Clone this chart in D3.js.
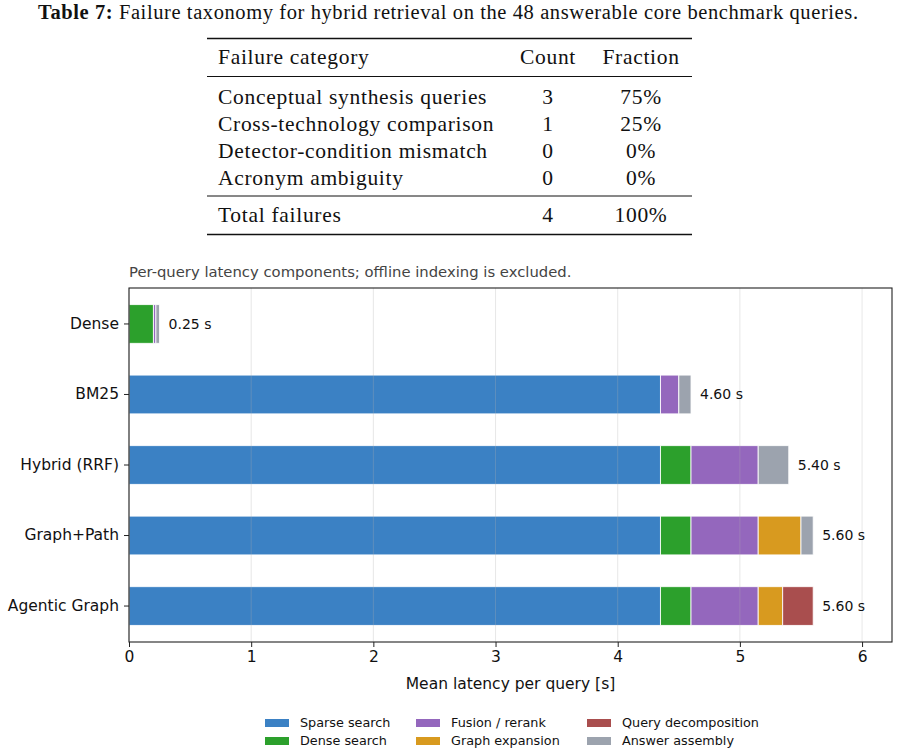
<!DOCTYPE html>
<html>
<head>
<meta charset="utf-8">
<style>
  body { margin: 0; background: #fff; }
  svg { display: block; }
  .serif { font-family: "Liberation Serif", "DejaVu Serif", serif; fill: #111; }
  .sans { font-family: "DejaVu Sans", sans-serif; }
</style>
</head>
<body>
<svg width="900" height="756"></svg>
<script src="https://d3js.org/d3.v7.min.js"></script>
<script>
// ---- table data ----
let tableRows = ["Conceptual synthesis queries", "Cross-technology comparison", "Detector-condition mismatch", "Acronym ambiguity"]
let tableCounts = [3, 1, 0, 0]
let tableFractions = ["75%", "25%", "0%", "0%"]
let totalRow = ["Total failures", 4, "100%"]

// ---- chart data ----
let systems = ["Dense", "BM25", "Hybrid (RRF)", "Graph+Path", "Agentic Graph"]
let components = ["Sparse search", "Dense search", "Fusion / rerank", "Graph expansion", "Query decomposition", "Answer assembly"]
let compColors = ["#3b81c4", "#2ca02c", "#9467bd", "#d89a1f", "#a94e4e", "#9ca3ae"]
let sparse   = [0,    4.35, 4.35, 4.35, 4.35]
let dense    = [0.20, 0,    0.25, 0.25, 0.25]
let fusion   = [0.02, 0.15, 0.55, 0.55, 0.55]
let graphExp = [0,    0,    0,    0.35, 0.20]
let queryDec = [0,    0,    0,    0,    0.25]
let answer   = [0.03, 0.10, 0.25, 0.10, 0]
let totals   = [0.25, 4.60, 5.40, 5.60, 5.60]
let xTicks = [0, 1, 2, 3, 4, 5, 6]

let svg = d3.select("svg")

// ---------- table ----------
let cap = svg.append("text").attr("class", "serif")
    .attr("x", 38).attr("y", 19)
    .attr("textLength", 820).attr("lengthAdjust", "spacing")
    .style("font-size", "20.5px")
cap.append("tspan").attr("font-weight", "bold").text("Table 7:")
cap.append("tspan").text(" Failure taxonomy for hybrid retrieval on the 48 answerable core benchmark queries.")

let tL = 207, tR = 692
let colX = {name: 218, count: 548, frac: 641}
let rule = (y, w) => svg.append("line").attr("x1", tL).attr("x2", tR)
    .attr("y1", y).attr("y2", y).attr("stroke", "#111").attr("stroke-width", w)
rule(38.5, 1.6)
rule(76.5, 1)
rule(196, 1)
rule(234.5, 1.6)

let fs = "21.5px", ls = "0.7px"
function tableRow(y, a, b, c) {
    svg.append("text").attr("class", "serif").attr("x", colX.name).attr("y", y)
        .style("font-size", fs).style("letter-spacing", ls).text(a)
    svg.append("text").attr("class", "serif").attr("x", colX.count).attr("y", y).attr("text-anchor", "middle")
        .style("font-size", fs).style("letter-spacing", ls).text(b)
    svg.append("text").attr("class", "serif").attr("x", colX.frac).attr("y", y).attr("text-anchor", "middle")
        .style("font-size", fs).style("letter-spacing", ls).text(c)
}
tableRow(64, "Failure category", "Count", "Fraction")
tableRows.forEach((r, i) => tableRow(104 + i * 27, r, tableCounts[i], tableFractions[i]))
tableRow(222, totalRow[0], totalRow[1], totalRow[2])

// ---------- chart ----------
let margin = {top: 288, right: 8, bottom: 114, left: 129}
let W = 900, H = 756

let x = d3.scaleLinear().domain([0, 6.245]).range([margin.left, W - margin.right])
let y = d3.scaleBand().domain(systems).range([margin.top, H - margin.bottom]).paddingInner(0.45).paddingOuter(0.235)

let data = systems.map((s, i) => ({
    system: s,
    "Sparse search": sparse[i],
    "Dense search": dense[i],
    "Fusion / rerank": fusion[i],
    "Graph expansion": graphExp[i],
    "Query decomposition": queryDec[i],
    "Answer assembly": answer[i]
}))

let series = d3.stack().keys(components)(data)
let color = d3.scaleOrdinal().domain(components).range(compColors)

svg.append("text").attr("class", "sans")
    .attr("x", margin.left).attr("y", 277)
    .style("font-size", "14.8px").style("fill", "#444")
    .text("Per-query latency components; offline indexing is excluded.")

svg.append("g").selectAll("g")
    .data(series)
    .join("g")
    .attr("fill", d => color(d.key))
    .selectAll("rect")
    .data(d => d.filter(v => v[1] - v[0] > 0))
    .join("rect")
    .attr("x", d => x(d[0]))
    .attr("y", d => y(d.data.system))
    .attr("width", d => x(d[1]) - x(d[0]))
    .attr("height", y.bandwidth())
    .attr("stroke", "#fff")
    .attr("stroke-width", 1)
    .attr("stroke-opacity", 0.85)

// grid on top, faint
svg.append("g").selectAll("line")
    .data(xTicks)
    .join("line")
    .attr("x1", d => x(d)).attr("x2", d => x(d))
    .attr("y1", margin.top).attr("y2", H - margin.bottom)
    .attr("stroke", "#b0b0b0").attr("stroke-opacity", 0.3).attr("stroke-width", 1)

// total labels
svg.append("g").selectAll("text")
    .data(systems)
    .join("text")
    .attr("class", "sans")
    .attr("x", (d, i) => x(totals[i]) + 9)
    .attr("y", d => y(d) + y.bandwidth() / 2)
    .attr("dy", "0.35em")
    .style("font-size", "14px").style("fill", "#111")
    .text((d, i) => totals[i].toFixed(2) + " s")

// axes
let xAxis = svg.append("g")
    .attr("transform", `translate(0,${H - margin.bottom})`)
    .call(d3.axisBottom(x).tickValues(xTicks).tickSize(5).tickPadding(4).tickFormat(d3.format("d")))
xAxis.select(".domain").remove()
xAxis.selectAll("text").attr("class", "sans").style("font-size", "15.5px").style("fill", "#111")
xAxis.selectAll("line").attr("stroke", "#222")

let yAxis = svg.append("g")
    .attr("transform", `translate(${margin.left},0)`)
    .call(d3.axisLeft(y).tickSize(5).tickPadding(5))
yAxis.select(".domain").remove()
yAxis.selectAll("text").attr("class", "sans").style("font-size", "15.5px").style("fill", "#111")
yAxis.selectAll("line").attr("stroke", "#222")

// frame
svg.append("rect")
    .attr("x", margin.left).attr("y", margin.top)
    .attr("width", W - margin.right - margin.left)
    .attr("height", H - margin.bottom - margin.top)
    .attr("fill", "none").attr("stroke", "#222").attr("stroke-width", 1.1)

svg.append("text").attr("class", "sans")
    .attr("x", (x(0) + x(6.245)) / 2).attr("y", 689)
    .attr("text-anchor", "middle")
    .style("font-size", "15.5px").style("fill", "#111")
    .text("Mean latency per query [s]")

// legend, column-wise 3 x 2
let legX = [265, 416, 587]
let legY = [723, 741]
let leg = svg.append("g").selectAll("g")
    .data(components)
    .join("g")
    .attr("transform", (d, i) => `translate(${legX[Math.floor(i / 2)]},${legY[i % 2]})`)
leg.append("rect").attr("x", 0).attr("y", -4).attr("width", 24).attr("height", 8)
    .attr("fill", d => color(d))
leg.append("text").attr("class", "sans").attr("x", 35).attr("y", 0).attr("dy", "0.35em")
    .style("font-size", "12.8px").style("fill", "#111")
    .text(d => d)
</script>
</body>
</html>
